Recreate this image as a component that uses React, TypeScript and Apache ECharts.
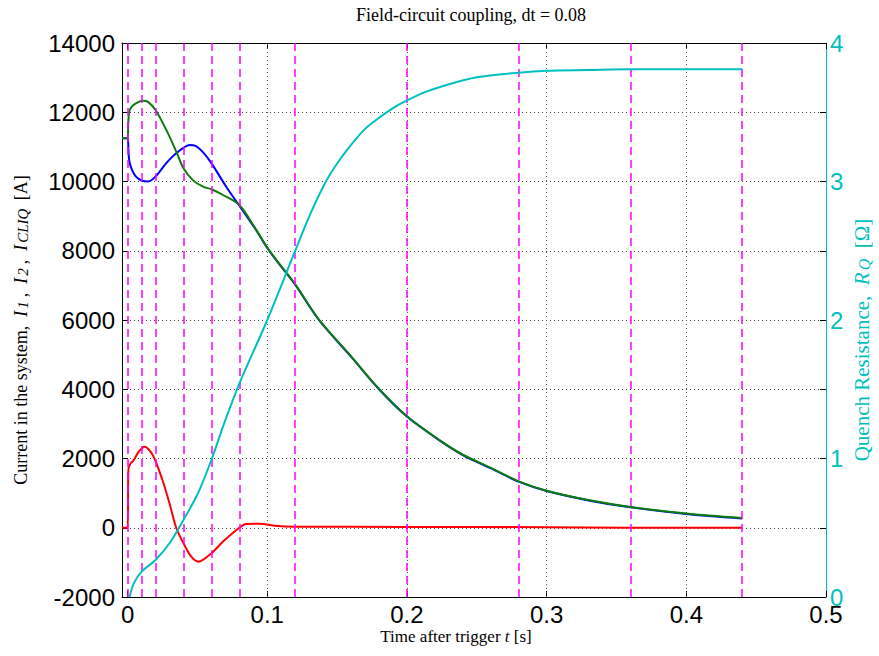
import React, { useEffect, useRef } from "react";
import * as echarts from "echarts";

// Axis ticks and reference times
const xTickValues = [0, 0.1, 0.2, 0.3, 0.4, 0.5];
const xGridValues = [0.1, 0.2, 0.3, 0.4];
const switchTimes = [0, 0.01, 0.02, 0.04, 0.06, 0.08, 0.12, 0.2, 0.28, 0.36, 0.44];

// I1 (blue)
const tBlue = [-0.004, 0, 0.0006, 0.0012, 0.003, 0.006, 0.01, 0.0146, 0.02, 0.0277, 0.0349, 0.0444, 0.049, 0.055, 0.06, 0.0706, 0.08, 0.092, 0.1, 0.11, 0.12, 0.137, 0.16, 0.18, 0.2, 0.223, 0.24, 0.26, 0.28, 0.3, 0.33, 0.36, 0.4, 0.44];
const iBlue = [11250, 11250, 10900, 10600, 10350, 10140, 10030, 10000, 10140, 10530, 10815, 11055, 11020, 10800, 10530, 9850, 9300, 8600, 8080, 7540, 7020, 6000, 4940, 4000, 3210, 2530, 2100, 1720, 1330, 1060, 790, 590, 400, 270];

// I2 (green)
const tGreen = [-0.004, 0, 0.0005, 0.0015, 0.004, 0.008, 0.011, 0.0146, 0.02, 0.0277, 0.0349, 0.04, 0.0467, 0.054, 0.06, 0.0683, 0.08, 0.092, 0.1, 0.11, 0.12, 0.137, 0.16, 0.18, 0.2, 0.223, 0.24, 0.26, 0.28, 0.3, 0.33, 0.36, 0.4, 0.44];
const iGreen = [11250, 11250, 11700, 12065, 12200, 12300, 12335, 12300, 12065, 11490, 10860, 10380, 10040, 9850, 9775, 9610, 9320, 8610, 8090, 7550, 7030, 6010, 4950, 4010, 3220, 2540, 2110, 1730, 1340, 1070, 800, 600, 410, 280];

// I_CLIQ (red)
const tRed = [-0.004, 0, 0.0006, 0.002, 0.0045, 0.008, 0.0122, 0.018, 0.025, 0.03, 0.0348, 0.04, 0.0456, 0.0508, 0.06, 0.0683, 0.08, 0.085, 0.0945, 0.105, 0.12, 0.2, 0.3, 0.36, 0.44];
const iRed = [0, 0, 1700, 1850, 1960, 2200, 2341, 2100, 1373, 706, 0, -450, -836, -980, -737, -400, 0, 108, 115, 60, 30, 25, 15, 0, 0];

// R_Q (cyan)
const tCyan = [0.0014, 0.0045, 0.01, 0.02, 0.03, 0.04, 0.0504, 0.06, 0.0683, 0.08, 0.1, 0.12, 0.131, 0.142, 0.15, 0.158, 0.17, 0.18, 0.19, 0.2, 0.213, 0.226, 0.25, 0.28, 0.3, 0.33, 0.36, 0.4, 0.44];
const rCyan = [0, 0.1, 0.183, 0.267, 0.388, 0.556, 0.749, 0.989, 1.23, 1.54, 2.0, 2.5, 2.77, 3.0, 3.13, 3.24, 3.38, 3.46, 3.53, 3.585, 3.645, 3.69, 3.752, 3.786, 3.8, 3.805, 3.81, 3.81, 3.81];

const zip = (t: number[], v: number[]) => t.map((x, i) => [x, v[i]]);

const SANS = "Liberation Sans, Arial, sans-serif";
const SERIF = "Liberation Serif, Times New Roman, serif";
const CYAN = "#00bfbf";

export default function App() {
  const ref = useRef<HTMLDivElement>(null);
  useEffect(() => {
    if (!ref.current) return;
    const chart = echarts.init(ref.current, undefined, { renderer: "svg" });
    const lineBase = { type: "line", showSymbol: false, symbol: "none", silent: true, smooth: 0.3 };
    chart.setOption({
      animation: false,
      backgroundColor: "#ffffff",
      grid: { left: 122, right: 53, top: 43, bottom: 59, containLabel: false },
      xAxis: [
        {
          type: "value", position: "bottom", min: -0.004, max: 0.5,
          axisLine: { show: true, onZero: false, lineStyle: { color: "#000", width: 1 } },
          axisTick: { show: true, inside: true, length: 6, customValues: xTickValues, lineStyle: { color: "#000" } },
          axisLabel: { show: true, customValues: xTickValues, fontSize: 24, fontFamily: SANS, color: "#000", margin: 5,
            formatter: (v: number) => String(Math.round(v * 10) / 10) },
          splitLine: { show: false },
        },
        {
          type: "value", position: "top", min: -0.004, max: 0.5,
          axisLine: { show: true, onZero: false, lineStyle: { color: "#000", width: 1 } },
          axisTick: { show: true, inside: true, length: 6, customValues: xTickValues, lineStyle: { color: "#000" } },
          axisLabel: { show: false },
          splitLine: { show: false },
        },
      ],
      yAxis: [
        {
          type: "value", position: "left", min: -2000, max: 14000, interval: 2000,
          axisLine: { show: true, onZero: false, lineStyle: { color: "#000", width: 1 } },
          axisTick: { show: true, inside: true, length: 6, lineStyle: { color: "#000" } },
          axisLabel: { fontSize: 24, fontFamily: SANS, color: "#000", margin: 7, formatter: (v: number) => String(v) },
          splitLine: { show: true, lineStyle: { color: "#444", type: [1, 3], width: 1 } },
        },
        {
          type: "value", position: "right", min: 0, max: 4, interval: 1,
          axisLine: { show: true, onZero: false, lineStyle: { color: CYAN, width: 1 } },
          axisTick: { show: true, inside: true, length: 6, lineStyle: { color: CYAN } },
          axisLabel: { fontSize: 24, fontFamily: SANS, color: CYAN, margin: 4 },
          splitLine: { show: false },
        },
        {
          type: "value", position: "right", min: -2000, max: 14000, interval: 2000,
          axisLine: { show: false, onZero: false },
          axisTick: { show: true, inside: true, length: 6, lineStyle: { color: "#000" } },
          axisLabel: { show: false },
          splitLine: { show: false },
        },
      ],
      series: [
        {
          ...lineBase, name: "grid", data: [], z: 1,
          markLine: {
            silent: true, symbol: ["none", "none"], label: { show: false },
            lineStyle: { color: "#555", type: [1, 3], width: 1 },
            data: xGridValues.map((t) => ({ xAxis: t })),
          },
        },
        {
          ...lineBase, name: "switches", data: [], z: 2,
          markLine: {
            silent: true, symbol: ["none", "none"], label: { show: false },
            lineStyle: { color: "#ff00ff", type: [8, 5], width: 1.5 },
            data: switchTimes.map((t) => ({ xAxis: t })),
          },
        },
        { ...lineBase, name: "I1", data: zip(tBlue, iBlue), yAxisIndex: 0, z: 3, lineStyle: { color: "#0000ff", width: 2 } },
        { ...lineBase, name: "I2", data: zip(tGreen, iGreen), yAxisIndex: 0, z: 4, lineStyle: { color: "#0a7d0a", width: 2 } },
        { ...lineBase, name: "ICLIQ", data: zip(tRed, iRed), yAxisIndex: 0, z: 4, lineStyle: { color: "#ff0000", width: 2 } },
        { ...lineBase, name: "RQ", data: zip(tCyan, rCyan), yAxisIndex: 1, z: 5, lineStyle: { color: CYAN, width: 2 } },
      ],
      graphic: [
        {
          type: "text", x: 471, y: 15,
          style: { text: "Field-circuit coupling, dt = 0.08", fontSize: 18, fontFamily: SERIF, fill: "#000", align: "center", verticalAlign: "middle" },
        },
        {
          type: "text", x: 456, y: 636,
          style: {
            text: "{n|Time after trigger }{i|t}{n| [s]}", align: "center", verticalAlign: "middle", fill: "#000",
            rich: {
              n: { fontSize: 17, fontFamily: SERIF, fill: "#000" },
              i: { fontSize: 17, fontFamily: SERIF, fontStyle: "italic", fill: "#000" },
            },
          },
        },
        {
          type: "text", x: 21, y: 330, rotation: Math.PI / 2,
          style: {
            text: "{n|Current in the system,  }{i|I}{s|1}{n|,  }{i|I}{s|2}{n|,  }{i|I}{s|CLIQ}{n| [A]}",
            align: "center", verticalAlign: "middle", fill: "#000",
            rich: {
              n: { fontSize: 18, fontFamily: SERIF, fill: "#000" },
              i: { fontSize: 18, fontFamily: SERIF, fontStyle: "italic", fill: "#000", padding: [0, 2, 0, 0] },
              s: { fontSize: 15, fontFamily: SERIF, fontStyle: "italic", fill: "#000", verticalAlign: "bottom", padding: [0, 4, 0, 0] },
            },
          },
        },
        {
          type: "text", x: 862, y: 340, rotation: Math.PI / 2,
          style: {
            text: "{n|Quench Resistance,  }{i|R}{s|Q}{n|  [Ω]}",
            align: "center", verticalAlign: "middle", fill: CYAN,
            rich: {
              n: { fontSize: 21, fontFamily: SERIF, fill: CYAN },
              i: { fontSize: 21, fontFamily: SERIF, fontStyle: "italic", fill: CYAN, padding: [0, 2, 0, 0] },
              s: { fontSize: 16, fontFamily: SERIF, fontStyle: "italic", fill: CYAN, verticalAlign: "bottom" },
            },
          },
        },
      ],
    });
    return () => chart.dispose();
  }, []);
  return <div ref={ref} style={{ position: "fixed", left: 0, top: 0, width: 879, height: 656 }} />;
}
